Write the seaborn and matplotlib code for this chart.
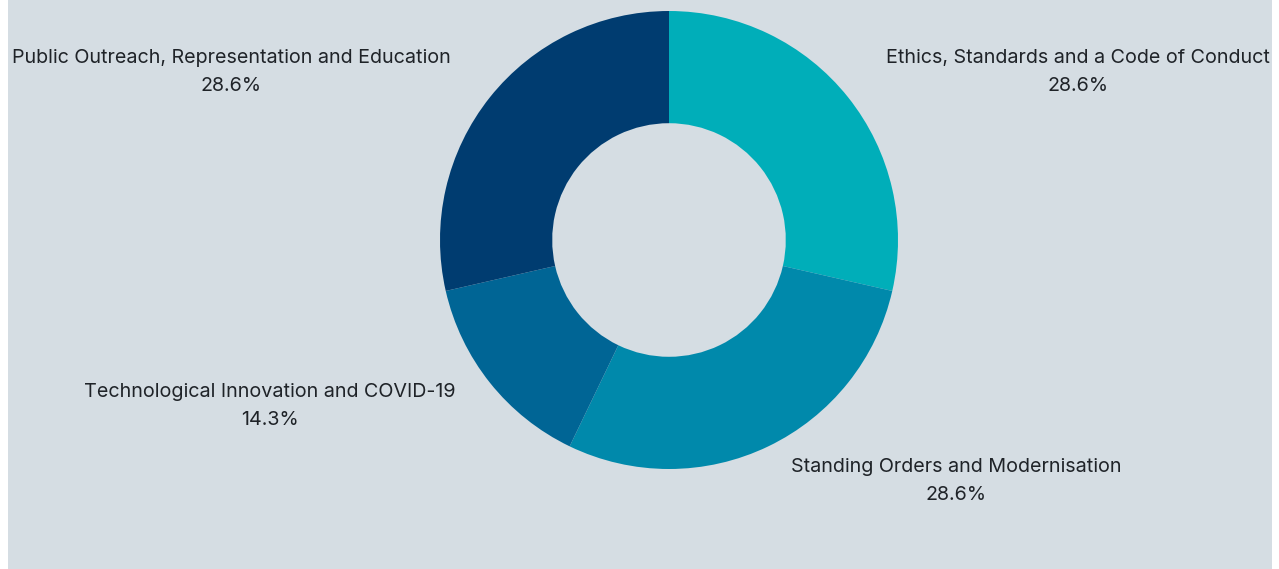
import matplotlib
matplotlib.use("Agg")
import matplotlib.pyplot as plt
import seaborn as sns

# Data
categories = [
    "Ethics, Standards and a Code of Conduct",
    "Standing Orders and Modernisation",
    "Technological Innovation and COVID-19",
    "Public Outreach, Representation and Education",
]
counts = [2, 2, 1, 2]
colors = ["#00aeb9", "#0089ab", "#006595", "#003c70"]

# label anchor points (pixels in the 1279x569 frame, from top-left)
label_xy = [(1078, 58), (956, 467), (270, 392), (231, 58)]

BG = "#d5dde3"
W, H = 1279, 569
CX, CY, R = 669, 240, 229  # donut centre and radius in pixels

sns.set_theme(style="white")
plt.rcParams["font.family"] = ["Inter", "DejaVu Sans"]

fig = plt.figure(figsize=(W / 100, H / 100), dpi=100, facecolor="white")
ax = fig.add_axes([8 / W, 0, 1264 / W, 1])

ax.pie(
    counts,
    colors=colors,
    startangle=90,
    counterclock=False,
    radius=1.0,
    wedgeprops=dict(width=0.49, edgecolor="none", linewidth=0),
)

# pixel -> data coords helpers
def px(x):
    return (x - CX) / R

def py(y):
    return (CY - y) / R

ax.set_xlim(px(8), px(1272))
ax.set_ylim(py(569), py(0))
ax.set_aspect("equal", adjustable="datalim")
ax.set_frame_on(True)
ax.set_facecolor(BG)
for s in ax.spines.values():
    s.set_visible(False)
ax.set_xticks([])
ax.set_yticks([])

total = sum(counts)
for name, c, (lx, ly) in zip(categories, counts, label_xy):
    ax.text(px(lx), py(ly), name, ha="center", va="center",
            fontsize=14.2, color="#1f2328")
    ax.text(px(lx), py(ly + 28), f"{c / total * 100:.1f}%", ha="center",
            va="center", fontsize=14.2, color="#1f2328")

fig.savefig("out.png", dpi=100, facecolor=fig.get_facecolor())
